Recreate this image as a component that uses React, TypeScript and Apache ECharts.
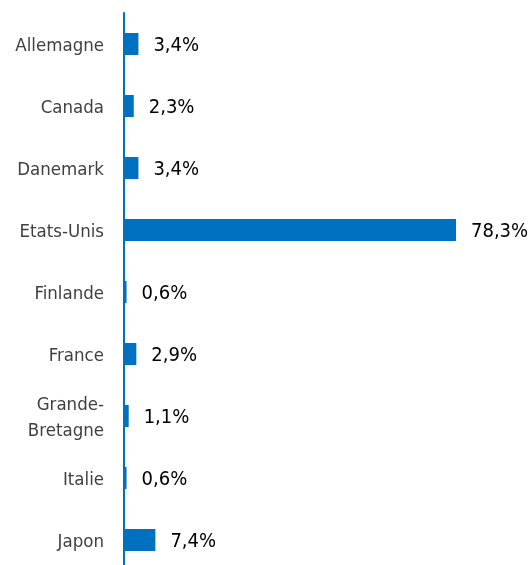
import React, { useEffect, useRef } from "react";
import * as echarts from "echarts";

const categories = [
  "Allemagne",
  "Canada",
  "Danemark",
  "Etats-Unis",
  "Finlande",
  "France",
  "Grande-\nBretagne",
  "Italie",
  "Japon",
];
const values = [3.4, 2.3, 3.4, 78.3, 0.6, 2.9, 1.1, 0.6, 7.4];

export default function App() {
  const ref = useRef<HTMLDivElement>(null);
  useEffect(() => {
    if (!ref.current) return;
    const chart = echarts.init(ref.current, null, { renderer: "svg" });
    chart.setOption({
      animation: false,
      grid: { left: 124, top: 13, width: 332, height: 558 },
      xAxis: {
        type: "value",
        min: 0,
        max: 78.3,
        show: false,
      },
      yAxis: {
        type: "category",
        data: categories,
        inverse: true,
        axisLine: { show: true, lineStyle: { color: "#0070C0", width: 2 } },
        axisTick: { show: false },
        axisLabel: {
          margin: 20,
          color: "#404040",
          fontSize: 18.5,
          fontFamily: "DejaVu Sans Condensed",
          lineHeight: 26,
        },
        splitLine: { show: false },
      },
      series: [
        {
          type: "bar",
          data: values,
          barWidth: 22,
          itemStyle: { color: "#0070C0" },
          label: {
            show: true,
            position: "right",
            distance: 15,
            color: "#000",
            fontSize: 20,
            fontFamily: "DejaVu Sans Condensed",
            formatter: (p: any) => p.value.toFixed(1).replace(".", ",") + "%",
          },
        },
      ],
    });
    return () => chart.dispose();
  }, []);
  return (
    <div
      ref={ref}
      style={{ position: "fixed", left: 0, top: 0, width: 531, height: 580 }}
    />
  );
}
